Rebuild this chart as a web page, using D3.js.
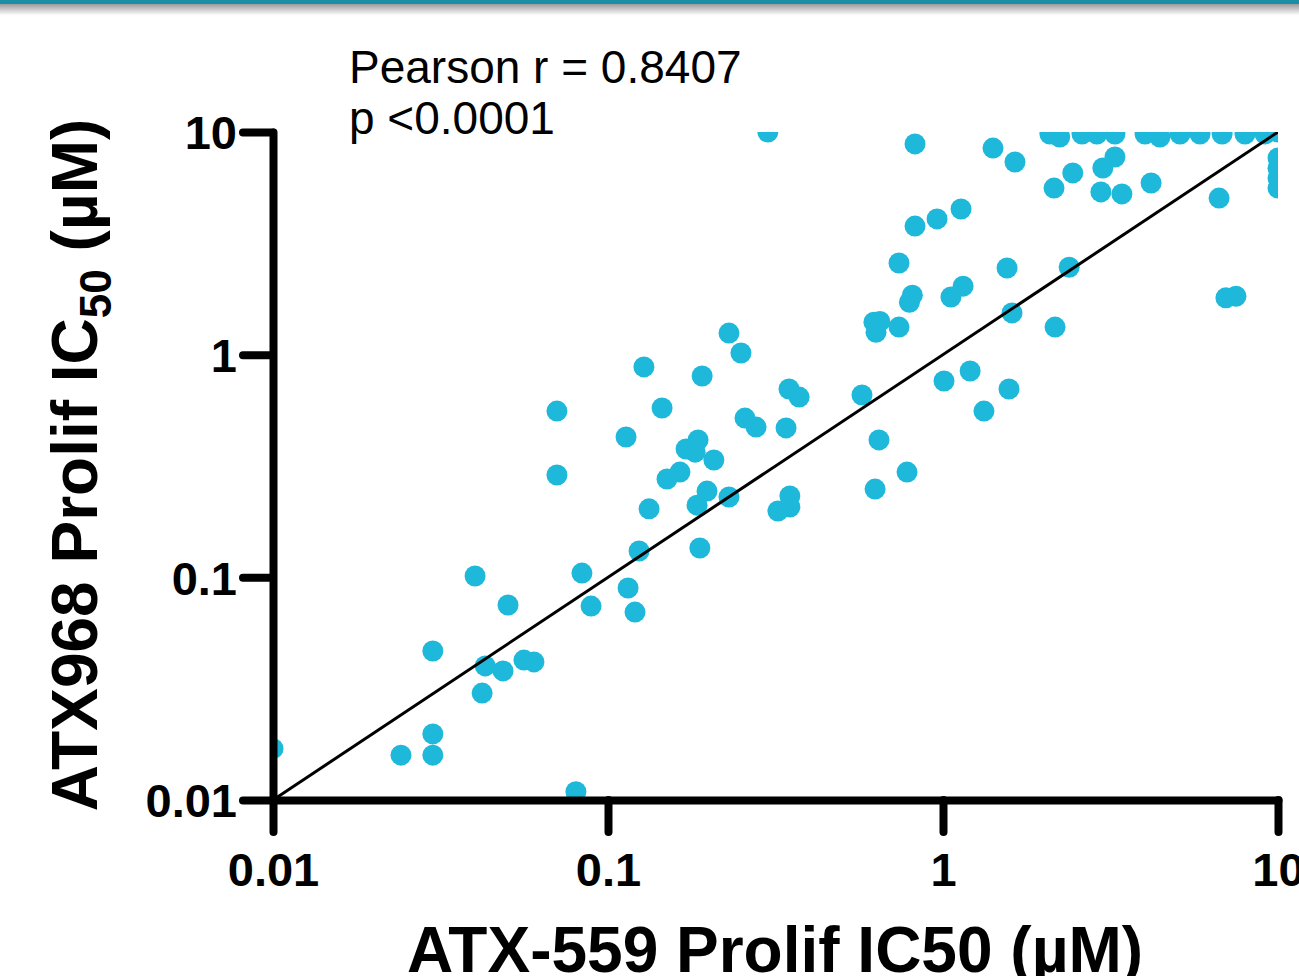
<!DOCTYPE html>
<html>
<head>
<meta charset="utf-8">
<script src="https://cdn.jsdelivr.net/npm/d3@7"></script>
<style>
  html, body { margin: 0; padding: 0; background: #fff; }
  svg { display: block; }
</style>
</head>
<body>
<div id="chart"></div>
<script>
(function () {
    'use strict';

    // ATX-559 IC50 (x) vs ATX968 IC50 (y), uM
    var xValues = [
        0.01, 0.0241, 0.030, 0.030, 0.030, 0.0401, 0.043, 0.0421, 0.0486, 0.0503,
        0.0561, 0.0601, 0.0704, 0.0704, 0.0802, 0.0836, 0.089, 0.1148, 0.1204, 0.1238,
        0.1132, 0.128, 0.1326, 0.145, 0.191, 0.2297, 0.2494, 0.347, 0.372, 0.2564,
        0.2767, 0.34, 0.171, 0.1857, 0.182, 0.207, 0.164, 0.15, 0.1975, 0.1844,
        0.2297, 0.349, 0.349, 0.3215, 0.188, 0.573, 0.644, 0.627, 0.781, 0.622,
        0.648, 0.631, 0.739, 0.81, 0.794, 1.056, 1.007, 1.205, 1.325, 0.96,
        1.132, 2.145, 2.44, 2.96, 3.42, 4.18, 6.67, 1.553, 2.38, 1.148,
        1.607, 2.16, 6.99, 7.49, 1.574, 0.30, 0.825, 1.41, 1.64, 0.825,
        0.739, 3.26, 3.0, 2.085, 2.23, 2.60, 2.88, 3.26, 4.01, 4.44,
        5.10, 5.85, 6.81, 7.97, 9.15, 10, 10, 10, 10, 10
    ];
    var yValues = [
        0.017, 0.0159, 0.0159, 0.0198, 0.0467, 0.1014, 0.040, 0.0302, 0.038, 0.0751,
        0.0425, 0.0417, 0.558, 0.288, 0.0109, 0.1045, 0.0743, 0.0896, 0.0698, 0.1313,
        0.427, 0.881, 0.203, 0.576, 0.802, 1.25, 1.017, 0.701, 0.645, 0.519,
        0.473, 0.469, 0.377, 0.414, 0.365, 0.3365, 0.297, 0.2765, 0.244, 0.211,
        0.2295, 0.232, 0.207, 0.1986, 0.1355, 0.659, 0.414, 0.249, 0.297, 1.40,
        1.41, 1.26, 1.33, 1.85, 1.72, 1.815, 0.762, 0.845, 0.558, 4.07,
        4.51, 5.6, 6.55, 5.38, 5.27, 5.9, 5.05, 2.45, 2.47, 2.03,
        1.54, 1.33, 1.80, 1.83, 0.701, 10, 8.84, 8.47, 7.33, 3.78,
        2.58, 7.72, 6.89, 9.8, 9.5, 9.8, 9.8, 9.8, 9.8, 9.5,
        9.8, 9.8, 9.8, 9.8, 9.8, 10, 7.64, 6.88, 6.21, 5.6
    ];
    var tickValues = [0.01, 0.1, 1, 10];
    var tickLabels = ["0.01", "0.1", "1", "10"];
    var statLines = ["Pearson r = 0.8407", "p <0.0001"];

    var width = 1299, height = 976,
        left = 273, right = 1278, top = 132, bottom = 800,
        dotColor = "#1eb8da";

    var points = xValues.map(function (d, i) {
        return {x: d, y: yValues[i]};
    });

    var x = d3.scaleLog().domain([0.01, 10]).range([left, right]);
    var y = d3.scaleLog().domain([0.01, 10]).range([bottom, top]);

    var svg = d3.select("#chart").append("svg")
        .attr("width", width)
        .attr("height", height)
        .style("font-family", "'Liberation Sans', Arial, sans-serif");

    // header strip with a soft shadow under it
    var defs = svg.append("defs");
    var grad = defs.append("linearGradient")
        .attr("id", "shade")
        .attr("x1", 0).attr("y1", 0).attr("x2", 0).attr("y2", 1);
    grad.append("stop").attr("offset", "0%").attr("stop-color", "#9a9a9a");
    grad.append("stop").attr("offset", "100%").attr("stop-color", "#fdfdfd");
    svg.append("rect").attr("x", 0).attr("y", 4).attr("width", width).attr("height", 11)
        .attr("fill", "url(#shade)");
    svg.append("rect").attr("x", 0).attr("y", 0).attr("width", width).attr("height", 4)
        .attr("fill", "#1a8ea6");

    defs.append("clipPath").attr("id", "plotClip")
        .append("rect")
        .attr("x", left).attr("y", top)
        .attr("width", right - left).attr("height", bottom - top);

    var plot = svg.append("g").attr("clip-path", "url(#plotClip)");

    plot.selectAll("circle.dot")
        .data(points)
        .enter()
        .append("circle")
        .attr("class", "dot")
        .attr("cx", function (d) { return x(d.x); })
        .attr("cy", function (d) { return y(d.y); })
        .attr("r", 10.5)
        .attr("fill", dotColor);

    // line of identity
    plot.append("line")
        .attr("x1", x(0.01)).attr("y1", y(0.01))
        .attr("x2", x(10)).attr("y2", y(10))
        .attr("stroke", "#000")
        .attr("stroke-width", 3);

    function styleAxis(g) {
        g.selectAll("path.domain, line")
            .attr("stroke", "#000")
            .attr("stroke-width", 8)
            .attr("stroke-linecap", "round");
        g.selectAll("text")
            .attr("fill", "#000")
            .style("font-size", "47px")
            .style("font-weight", "bold");
    }

    var xAxis = svg.append("g")
        .attr("transform", "translate(0," + bottom + ")")
        .call(d3.axisBottom(x)
            .tickValues(tickValues)
            .tickFormat(function (d, i) { return tickLabels[i]; })
            .tickSize(32)
            .tickSizeOuter(0)
            .tickPadding(20));
    styleAxis(xAxis);
    xAxis.selectAll("text").attr("dy", "0.72em");

    var yAxis = svg.append("g")
        .attr("transform", "translate(" + left + ",0)")
        .call(d3.axisLeft(y)
            .tickValues(tickValues)
            .tickFormat(function (d, i) { return tickLabels[i]; })
            .tickSize(30)
            .tickSizeOuter(0)
            .tickPadding(6));
    styleAxis(yAxis);
    yAxis.selectAll("text").attr("dy", "0.36em");

    // axis titles
    svg.append("text")
        .attr("x", 775)
        .attr("y", 972)
        .attr("text-anchor", "middle")
        .style("font-size", "64px")
        .style("font-weight", "bold")
        .text("ATX-559 Prolif IC50 (\u00b5M)");

    var yTitle = svg.append("text")
        .attr("transform", "translate(97,465) rotate(-90)")
        .attr("text-anchor", "middle")
        .style("font-size", "64px")
        .style("font-weight", "bold");
    yTitle.append("tspan").text("ATX968 Prolif IC");
    yTitle.append("tspan")
        .attr("dy", 14)
        .style("font-size", "44px")
        .text("50");
    yTitle.append("tspan")
        .attr("dy", -14)
        .text(" (\u00b5M)");

    // correlation stats
    svg.selectAll("text.stat")
        .data(statLines)
        .enter()
        .append("text")
        .attr("class", "stat")
        .attr("x", 349)
        .attr("y", function (d, i) { return 83 + i * 51; })
        .style("font-size", "46px")
        .text(function (d) { return d; });
}());
</script>
</body>
</html>
